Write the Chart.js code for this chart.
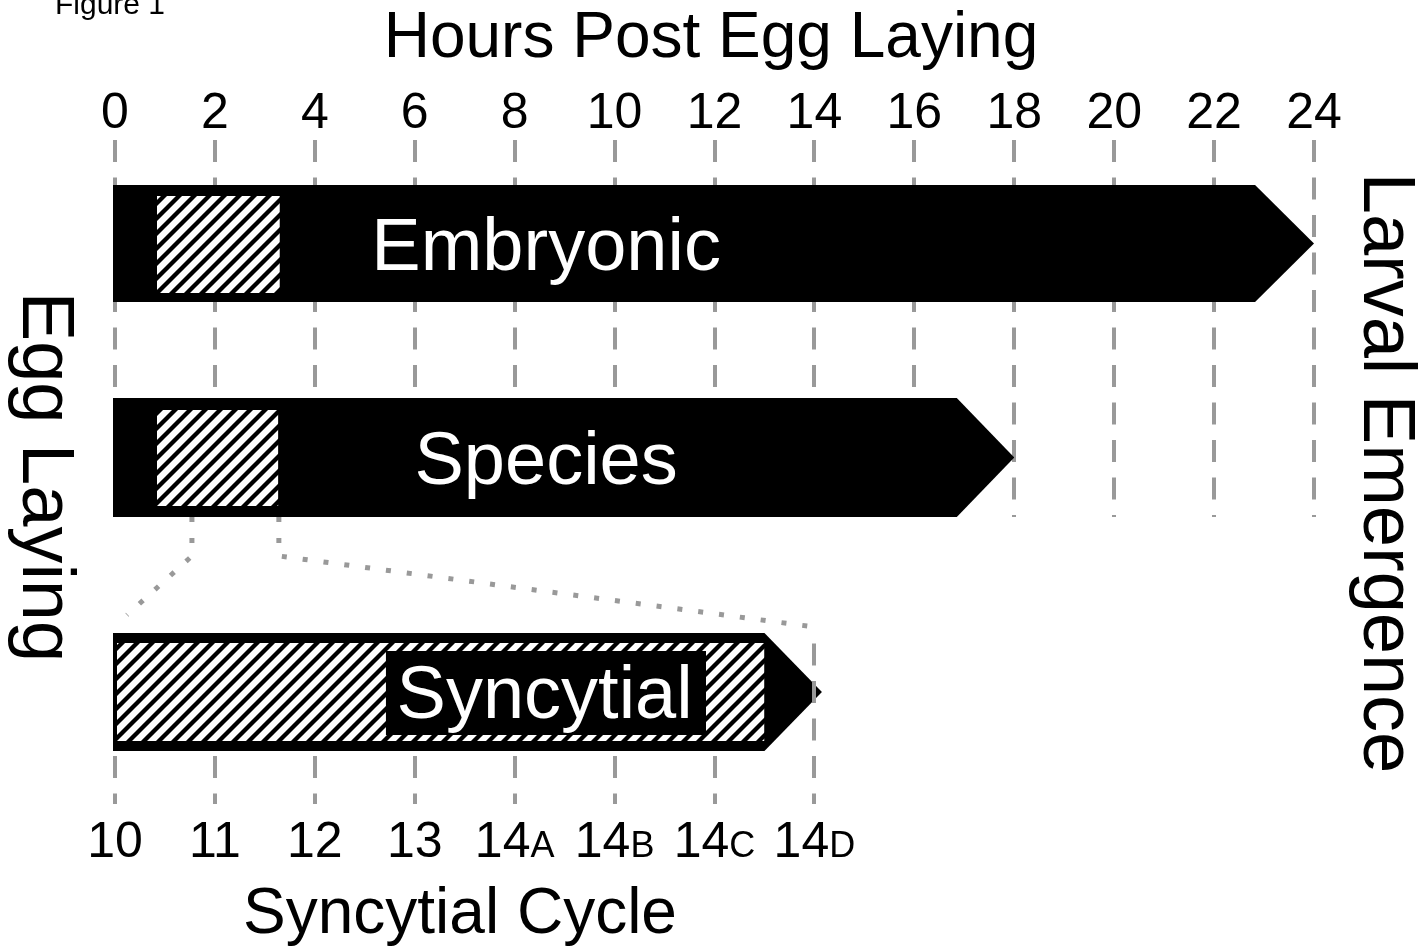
<!DOCTYPE html>
<html>
<head>
<meta charset="utf-8">
<script src="https://cdn.jsdelivr.net/npm/chart.js@4.4.0/dist/chart.umd.min.js"></script>
<style>
  html, body { margin: 0; padding: 0; background: #ffffff; }
  #wrap { width: 1421px; height: 947px; position: relative; }
</style>
</head>
<body>
<div id="wrap"><canvas id="c" width="1421" height="947"></canvas></div>
<script>
// ---------------- data ----------------
const stages        = ['Embryonic', 'Species', 'Syncytial'];
const stageStart    = [0, 0, 0];            // hours
const stageBodyEnd  = [22.82, 16.85, 13.0]; // hours where the arrow head begins
const stageTipEnd   = [24.0, 18.0, 14.15];  // hours at the arrow tip
const hatchStart    = [0.84, 0.84, 0.04];   // hours
const hatchEnd      = [3.30, 3.27, 13.0];   // hours
const labelBoxStart = [null, null, 5.42];
const labelBoxEnd   = [null, null, 11.83];
const labelCenter   = [8.63, 8.63, 8.6];    // hours
const hourTicks     = [0, 2, 4, 6, 8, 10, 12, 14, 16, 18, 20, 22, 24];
const cycleTickHours = [0, 2, 4, 6, 8, 10, 12, 14];
const cycleLabels   = ['10', '11', '12', '13', '14', '14', '14', '14'];
const cycleSuffix   = ['', '', '', '', 'A', 'B', 'C', 'D'];
const zoomFromHour  = [1.54, 3.28];   // where the zoom connectors leave the Species bar
const zoomToHour    = [0.24, 14.0];   // where they meet the Syncytial bar

// ---------------- layout (vertical lane units, not data) ----------------
const layout = {
  lanes: [
    { top: 65,  bottom: 182, hatchTop: 76,  hatchBottom: 173 },
    { top: 278, bottom: 397, hatchTop: 290, hatchBottom: 386 },
    { top: 513, bottom: 631, hatchTop: 523, hatchBottom: 621, boxTop: 531, boxBottom: 615 }
  ],
  topGrid: [20, 397],
  bottomGrid: [636, 684],
  lastCycleGrid: [523.5, 684],
  connectorKnee: 436,
  connectorEnd: [495, 507]
};

const FONT = '"Liberation Sans", Arial, Helvetica, sans-serif';
const GRID = '#999999';

const canvas = document.getElementById('c');
const mainCtx = canvas.getContext('2d');

function makeHatch(p, w) {
  const t = document.createElement('canvas');
  t.width = p; t.height = p;
  const g = t.getContext('2d');
  g.fillStyle = '#ffffff';
  g.fillRect(0, 0, p, p);
  g.strokeStyle = '#000000';
  g.lineWidth = w;
  g.beginPath();
  g.moveTo(-p / 2, p / 2); g.lineTo(p / 2, -p / 2);
  g.moveTo(0, p); g.lineTo(p, 0);
  g.moveTo(p / 2, 3 * p / 2); g.lineTo(3 * p / 2, p / 2);
  g.stroke();
  return mainCtx.createPattern(t, 'repeat');
}
const hatch = makeHatch(15, 4.3);

const datasets = [];
function band(xs, tops, bottoms, color, order) {
  datasets.push({
    data: xs.map((x, i) => ({ x, y: tops[i] })),
    fill: '+1', backgroundColor: color, borderWidth: 0, pointRadius: 0, order, clip: false
  });
  datasets.push({
    data: xs.map((x, i) => ({ x, y: bottoms[i] })),
    fill: false, backgroundColor: color, borderWidth: 0, pointRadius: 0, order, clip: false
  });
}

stages.forEach((s, i) => {
  const L = layout.lanes[i];
  const mid = (L.top + L.bottom) / 2;
  // black arrow body
  band([stageStart[i] - 0.04, stageBodyEnd[i], stageTipEnd[i]],
       [L.top, L.top, mid], [L.bottom, L.bottom, mid], '#000000', 10);
  // hatched window
  band([hatchStart[i], hatchEnd[i]],
       [L.hatchTop, L.hatchTop], [L.hatchBottom, L.hatchBottom], hatch, 6);
  // label box
  if (labelBoxStart[i] !== null) {
    band([labelBoxStart[i], labelBoxEnd[i]],
         [L.boxTop, L.boxTop], [L.boxBottom, L.boxBottom], '#000000', 4);
  }
});

// zoom connectors (dotted)
zoomFromHour.forEach((h, k) => {
  datasets.push({
    data: [
      { x: h, y: layout.lanes[1].bottom },
      { x: h, y: layout.connectorKnee },
      { x: zoomToHour[k], y: layout.connectorEnd[k] }
    ],
    fill: false, borderColor: GRID, borderWidth: 5, borderDash: [5, 16],
    borderCapStyle: 'butt', pointRadius: 0, tension: 0, order: 1, clip: false
  });
});

function text(ctx, s, x, y, size, color, align) {
  ctx.font = size + 'px ' + FONT;
  ctx.fillStyle = color;
  ctx.textAlign = align || 'center';
  ctx.textBaseline = 'alphabetic';
  ctx.fillText(s, x, y);
}

const diagramPlugin = {
  id: 'diagram',
  beforeDatasetsDraw(chart) {
    const { ctx, scales: { x, y } } = chart;
    ctx.save();
    ctx.strokeStyle = GRID;
    ctx.lineWidth = 4;
    ctx.setLineDash([22, 15.5]);
    hourTicks.forEach(h => {
      const px = Math.round(x.getPixelForValue(h));
      ctx.beginPath();
      ctx.moveTo(px, y.getPixelForValue(layout.topGrid[0]));
      ctx.lineTo(px, y.getPixelForValue(layout.topGrid[1]));
      ctx.stroke();
    });
    ctx.restore();
  },
  afterDatasetsDraw(chart) {
    const { ctx, scales: { x, y } } = chart;
    ctx.save();
    // bottom grid lines (syncytial cycle)
    ctx.strokeStyle = GRID;
    ctx.lineWidth = 4;
    ctx.setLineDash([22, 15.5]);
    cycleTickHours.forEach((h, i) => {
      const px = Math.round(x.getPixelForValue(h));
      const range = (i === cycleTickHours.length - 1) ? layout.lastCycleGrid : layout.bottomGrid;
      ctx.beginPath();
      ctx.moveTo(px, y.getPixelForValue(range[0]));
      ctx.lineTo(px, y.getPixelForValue(range[1]));
      ctx.stroke();
    });
    ctx.setLineDash([]);

    // stage labels
    stages.forEach((s, i) => {
      const L = layout.lanes[i];
      const cy = y.getPixelForValue((L.top + L.bottom) / 2);
      text(ctx, s, x.getPixelForValue(labelCenter[i]), cy + 26, 74, '#ffffff');
    });

    // top ticks
    hourTicks.forEach(h => {
      text(ctx, String(h), x.getPixelForValue(h), 128, 50, '#000000');
    });

    // bottom ticks with small suffix
    cycleTickHours.forEach((h, i) => {
      ctx.font = '50px ' + FONT;
      const w1 = ctx.measureText(cycleLabels[i]).width;
      ctx.font = '36px ' + FONT;
      const w2 = cycleSuffix[i] ? ctx.measureText(cycleSuffix[i]).width : 0;
      const cx = x.getPixelForValue(h);
      const left = cx - (w1 + w2) / 2;
      text(ctx, cycleLabels[i], left, 857, 50, '#000000', 'left');
      if (cycleSuffix[i]) text(ctx, cycleSuffix[i], left + w1, 857, 36, '#000000', 'left');
    });

    // titles
    text(ctx, 'Figure 1', 55, 14, 30, '#000000', 'left');
    text(ctx, 'Hours Post Egg Laying', 711, 57, 64, '#000000');
    text(ctx, 'Syncytial Cycle', 460, 933, 64, '#000000');

    ctx.save();
    ctx.translate(23, 477);
    ctx.rotate(Math.PI / 2);
    text(ctx, 'Egg Laying', 0, 0, 74, '#000000');
    ctx.restore();

    ctx.save();
    ctx.translate(1364, 473);
    ctx.rotate(Math.PI / 2);
    text(ctx, 'Larval Emergence', 0, 0, 74, '#000000');
    ctx.restore();

    ctx.restore();
  }
};

new Chart(canvas, {
  type: 'line',
  data: { datasets },
  options: {
    responsive: false,
    animation: false,
    events: [],
    layout: { padding: { left: 105, right: 77, top: 120, bottom: 127 } },
    scales: {
      x: { type: 'linear', min: -0.2, max: 24.6, display: false },
      y: { type: 'linear', min: 0, max: 700, reverse: true, display: false }
    },
    plugins: {
      legend: { display: false },
      tooltip: { enabled: false },
      filler: { propagate: false }
    }
  },
  plugins: [diagramPlugin]
});
</script>
</body>
</html>
